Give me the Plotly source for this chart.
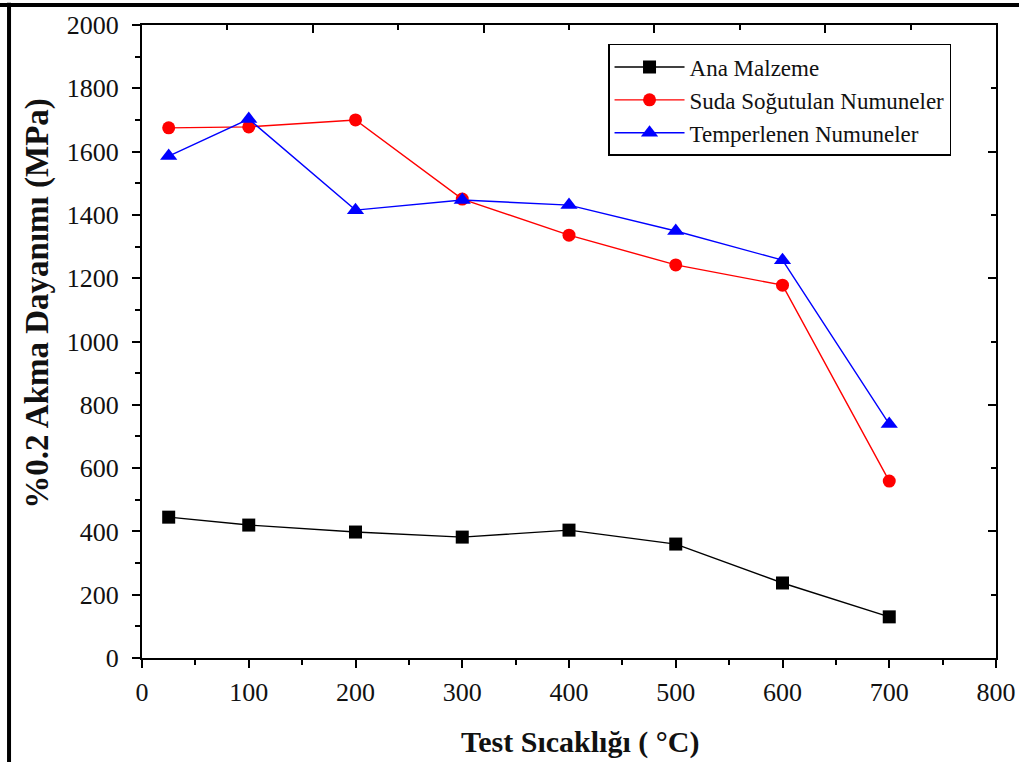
import plotly.graph_objects as go

temps = [25, 100, 200, 300, 400, 500, 600, 700]
ana_malzeme = [445, 420, 398, 382, 404, 360, 237, 130]
suda_sogutulan = [1675, 1678, 1700, 1450, 1336, 1242, 1178, 559]
temperlenen = [1586, 1703, 1415, 1447, 1431, 1349, 1257, 739]

series = [
    ("Ana Malzeme", ana_malzeme, "black", "square", 13),
    ("Suda Soğutulan Numuneler", suda_sogutulan, "red", "circle", 13),
    ("Temperlenen Numuneler", temperlenen, "blue", "triangle-up", 15),
]

FONT = "Liberation Serif, Times New Roman, serif"

fig = go.Figure()
for name, vals, col, sym, sz in series:
    fig.add_trace(go.Scatter(
        x=temps, y=vals, name=name, mode="lines+markers",
        line=dict(color=col, width=1.4),
        marker=dict(symbol=sym, size=sz, color=col),
    ))

# empty trace to activate the mirrored top/right axes
fig.add_trace(go.Scatter(x=[], y=[], xaxis="x2", yaxis="y2", showlegend=False))

axis_common = dict(showgrid=False, zeroline=False, showline=True, automargin=False,
                   linecolor="black", linewidth=2, tickcolor="black", tickwidth=2)

fig.update_layout(
    width=1019, height=762,
    margin=dict(l=142, r=23, t=25, b=104, autoexpand=False),
    paper_bgcolor="white", plot_bgcolor="white",
    font=dict(family=FONT, color="black", size=20),
    xaxis=dict(range=[0, 800], dtick=100, ticks="outside", ticklen=8,
               minor=dict(dtick=50, ticks="outside", ticklen=5, tickcolor="black", tickwidth=2),
               tickfont=dict(size=26, family=FONT, color="#111"), ticklabelstandoff=2,
               ticklabeloverflow="allow",
               **axis_common),
    yaxis=dict(range=[0, 2000], dtick=200, ticks="outside", ticklen=8,
               minor=dict(dtick=100, ticks="outside", ticklen=5, tickcolor="black", tickwidth=2),
               tickfont=dict(size=26, family=FONT, color="#111"), ticklabelstandoff=8,
               ticklabeloverflow="allow",
               **axis_common),
    xaxis2=dict(overlaying="x", side="top", range=[0, 1000], dtick=200, ticks="inside",
                ticklen=8, showticklabels=False,
                minor=dict(dtick=100, ticks="inside", ticklen=5, tickcolor="black", tickwidth=2),
                **axis_common),
    yaxis2=dict(overlaying="y", side="right", range=[0, 2000], dtick=400, ticks="inside",
                ticklen=8, showticklabels=False,
                minor=dict(dtick=200, ticks="inside", ticklen=5, tickcolor="black", tickwidth=2),
                **axis_common),
    legend=dict(x=0.5457, y=0.970, xanchor="left", yanchor="top",
                bgcolor="white", bordercolor="black", borderwidth=1.5,
                font=dict(size=23, family=FONT, color="#111"), itemwidth=70, tracegroupgap=0),
    showlegend=True,
)

# axis titles as annotations (placed like the original)
fig.add_annotation(text="<b>Test Sıcaklığı ( °C)</b>", xref="paper", yref="paper",
                   x=0.513, y=-0.1327, xanchor="center", yanchor="middle", showarrow=False,
                   font=dict(size=30, family=FONT, color="#111"))
fig.add_annotation(text="<b>%0.2 Akma Dayanımı (MPa)</b>", xref="paper", yref="paper",
                   x=-0.1218, y=0.561, xanchor="center", yanchor="middle", showarrow=False,
                   textangle=-90, font=dict(size=33, family=FONT, color="#111"))

# outer frame of the picture (top and left edges)
fig.add_shape(type="line", xref="paper", yref="paper", x0=-0.17, x1=1.03, y0=1.0316, y1=1.0316,
              line=dict(color="black", width=4))
fig.add_shape(type="line", xref="paper", yref="paper", x0=-0.1557, x1=-0.1557, y0=1.035, y1=-0.17,
              line=dict(color="black", width=4))

fig.write_html("out.html",
               config={"displayModeBar": False},
               post_script="document.body.style.margin='0';document.body.style.overflow='hidden';")
